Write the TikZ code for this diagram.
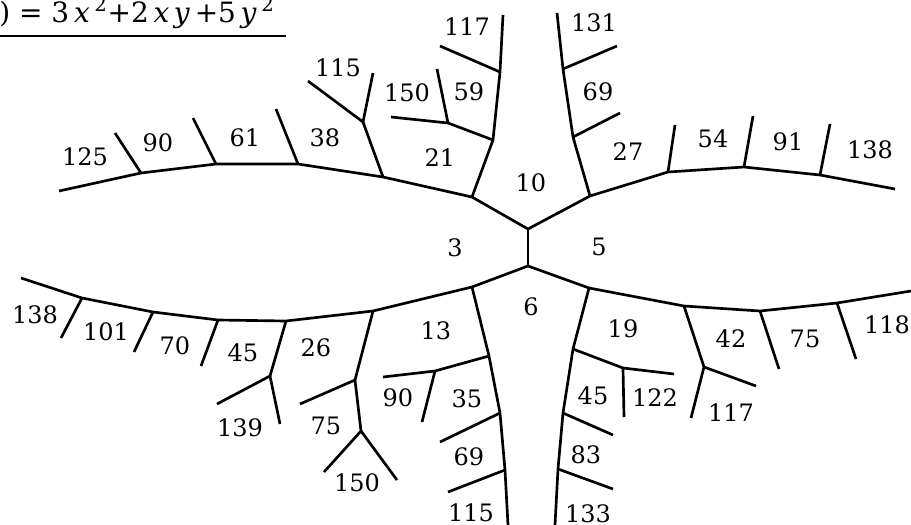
\documentclass[tikz,border=0pt]{standalone}
\usepackage{fontspec}
\setmainfont{DejaVu Serif}

\begin{document}
\begin{tikzpicture}[x=0.75pt,y=-0.75pt,line width=2pt]
\tikzstyle{val}=[inner sep=0pt,font=\fontsize{18}{20}\selectfont]
\useasboundingbox (0,0) rectangle (911,525);
% title
\node[inner sep=0pt,font=\fontsize{21}{24}\selectfont,anchor=base west] (title) at (-2,22) {)\ =\ 3\,\textit{x}\,\textsuperscript{2}+2\,\textit{x}\,\textit{y}\,+5\,\textit{y}\,\textsuperscript{2}};
\coordinate (barL) at (0,36);
\coordinate (barR) at (286,36);
\draw[line width=1.6pt] (barL)--(barR);
% centre edge
\coordinate (ct) at (528,229);
\coordinate (cb) at (528,266);
% upper left
\coordinate (ul) at (472,197);
\coordinate (ul1) at (493,140);
\coordinate (ul2) at (500,72);
\coordinate (ul3) at (503,15);
\coordinate (ul2b) at (440,46);
\coordinate (ul1b) at (448,123);
\coordinate (ul1bl) at (391,117);
\coordinate (ul1bu) at (437,69);
\coordinate (ulL) at (383,177);
\coordinate (ulL1) at (363,122);
\coordinate (ulL1a) at (308,81);
\coordinate (ulL1b) at (373,73);
\coordinate (ulM) at (298,164);
\coordinate (ulMb) at (276,109);
\coordinate (ulN) at (216,164);
\coordinate (ulNb) at (193,118);
\coordinate (ulO) at (141,173);
\coordinate (ulOb) at (115,133);
\coordinate (ulE) at (59,191);
% upper right
\coordinate (ur) at (590,196);
\coordinate (ur1) at (573,137);
\coordinate (ur1b) at (620,113);
\coordinate (ur2) at (563,69);
\coordinate (ur2b) at (617,46);
\coordinate (ur3) at (557,13);
\coordinate (urA) at (668,172);
\coordinate (urAb) at (675,125);
\coordinate (urB) at (744,167);
\coordinate (urBb) at (753,116);
\coordinate (urC) at (820,175);
\coordinate (urCb) at (830,124);
\coordinate (urE) at (895,189);
% lower left
\coordinate (ll) at (472,287);
\coordinate (ll1) at (489,356);
\coordinate (ll1b) at (435,371);
\coordinate (ll1bl) at (383,377);
\coordinate (ll1bd) at (422,422);
\coordinate (ll2) at (500,413);
\coordinate (ll2b) at (440,442);
\coordinate (ll3) at (505,470);
\coordinate (ll3b) at (448,492);
\coordinate (ll4) at (508,525);
\coordinate (llA) at (373,311);
\coordinate (llAd) at (355,380);
\coordinate (llAdl) at (300,404);
\coordinate (llAd2) at (361,431);
\coordinate (llAd2l) at (324,472);
\coordinate (llAd2r) at (397,480);
\coordinate (llB) at (286,321);
\coordinate (llBd) at (270,376);
\coordinate (llBdl) at (217,404);
\coordinate (llBdr) at (280,424);
\coordinate (llC) at (218,320);
\coordinate (llCd) at (201,366);
\coordinate (llD) at (153,312);
\coordinate (llDd) at (134,352);
\coordinate (llE) at (82,298);
\coordinate (llEd) at (61,338);
\coordinate (llF) at (21,278);
% lower right
\coordinate (lr) at (589,288);
\coordinate (lr1) at (573,349);
\coordinate (lr1b) at (623,368);
\coordinate (lr1br) at (674,374);
\coordinate (lr1bd) at (624,417);
\coordinate (lr2) at (563,413);
\coordinate (lr2b) at (613,435);
\coordinate (lr3) at (558,469);
\coordinate (lr3b) at (613,489);
\coordinate (lr4) at (555,525);
\coordinate (lrA) at (684,306);
\coordinate (lrAd) at (704,367);
\coordinate (lrAdr) at (756,386);
\coordinate (lrAdl) at (691,418);
\coordinate (lrB) at (760,311);
\coordinate (lrBd) at (779,369);
\coordinate (lrC) at (837,303);
\coordinate (lrCd) at (856,359);
\coordinate (lrE) at (911,291);
% edges
\draw (ct)--(cb);
\draw (ulE)--(ulO)--(ulN)--(ulM)--(ulL)--(ul)--(ct)--(ur)--(urA)--(urB)--(urC)--(urE);
\draw (ul)--(ul1)--(ul2)--(ul3);
\draw (ul2)--(ul2b);
\draw (ul1)--(ul1b)--(ul1bl);
\draw (ul1b)--(ul1bu);
\draw (ulL)--(ulL1)--(ulL1a);
\draw (ulL1)--(ulL1b);
\draw (ulM)--(ulMb);
\draw (ulN)--(ulNb);
\draw (ulO)--(ulOb);
\draw (ur)--(ur1)--(ur2)--(ur3);
\draw (ur1)--(ur1b);
\draw (ur2)--(ur2b);
\draw (urA)--(urAb);
\draw (urB)--(urBb);
\draw (urC)--(urCb);
\draw (llF)--(llE)--(llD)--(llC)--(llB)--(llA)--(ll)--(cb)--(lr)--(lrA)--(lrB)--(lrC)--(lrE);
\draw (ll)--(ll1)--(ll2)--(ll3)--(ll4);
\draw (ll1)--(ll1b)--(ll1bl);
\draw (ll1b)--(ll1bd);
\draw (ll2)--(ll2b);
\draw (ll3)--(ll3b);
\draw (llA)--(llAd)--(llAdl);
\draw (llAd)--(llAd2)--(llAd2l);
\draw (llAd2)--(llAd2r);
\draw (llB)--(llBd)--(llBdl);
\draw (llBd)--(llBdr);
\draw (llC)--(llCd);
\draw (llD)--(llDd);
\draw (llE)--(llEd);
\draw (lr)--(lr1)--(lr2)--(lr3)--(lr4);
\draw (lr1)--(lr1b)--(lr1br);
\draw (lr1b)--(lr1bd);
\draw (lr2)--(lr2b);
\draw (lr3)--(lr3b);
\draw (lrA)--(lrAd)--(lrAdr);
\draw (lrAd)--(lrAdl);
\draw (lrB)--(lrBd);
\draw (lrC)--(lrCd);
% values, upper half
\node[val] (v125) at (85,157) {125};
\node[val] (v90a) at (158,143) {90};
\node[val] (v61) at (245,138) {61};
\node[val] (v38) at (325,138) {38};
\node[val] (v115a) at (338,68) {115};
\node[val] (v150a) at (407,93) {150};
\node[val] (v59) at (469,92) {59};
\node[val] (v117a) at (467,27) {117};
\node[val] (v21) at (440,158) {21};
\node[val] (v10) at (531,183) {10};
\node[val] (v131) at (594,23) {131};
\node[val] (v69a) at (598,92) {69};
\node[val] (v27) at (628,152) {27};
\node[val] (v54) at (713,139) {54};
\node[val] (v91) at (788,142) {91};
\node[val] (v138a) at (870,150) {138};
\node[val] (v3) at (455,248) {3};
\node[val] (v5) at (599,247) {5};
% values, lower half
\node[val] (v6) at (531,307) {6};
\node[val] (v138b) at (35,315) {138};
\node[val] (v101) at (106,332) {101};
\node[val] (v70) at (175,346) {70};
\node[val] (v45a) at (243,353) {45};
\node[val] (v26) at (316,348) {26};
\node[val] (v139) at (240,428) {139};
\node[val] (v75a) at (326,426) {75};
\node[val] (v150b) at (357,483) {150};
\node[val] (v13) at (436,331) {13};
\node[val] (v90b) at (398,398) {90};
\node[val] (v35) at (467,399) {35};
\node[val] (v69b) at (469,457) {69};
\node[val] (v115b) at (471,513) {115};
\node[val] (v19) at (623,329) {19};
\node[val] (v45b) at (593,396) {45};
\node[val] (v83) at (586,455) {83};
\node[val] (v133) at (588,514) {133};
\node[val] (v122) at (655,398) {122};
\node[val] (v42) at (731,339) {42};
\node[val] (v75b) at (805,339) {75};
\node[val] (v118) at (887,325) {118};
\node[val] (v117b) at (731,413) {117};
\end{tikzpicture}
\end{document}
